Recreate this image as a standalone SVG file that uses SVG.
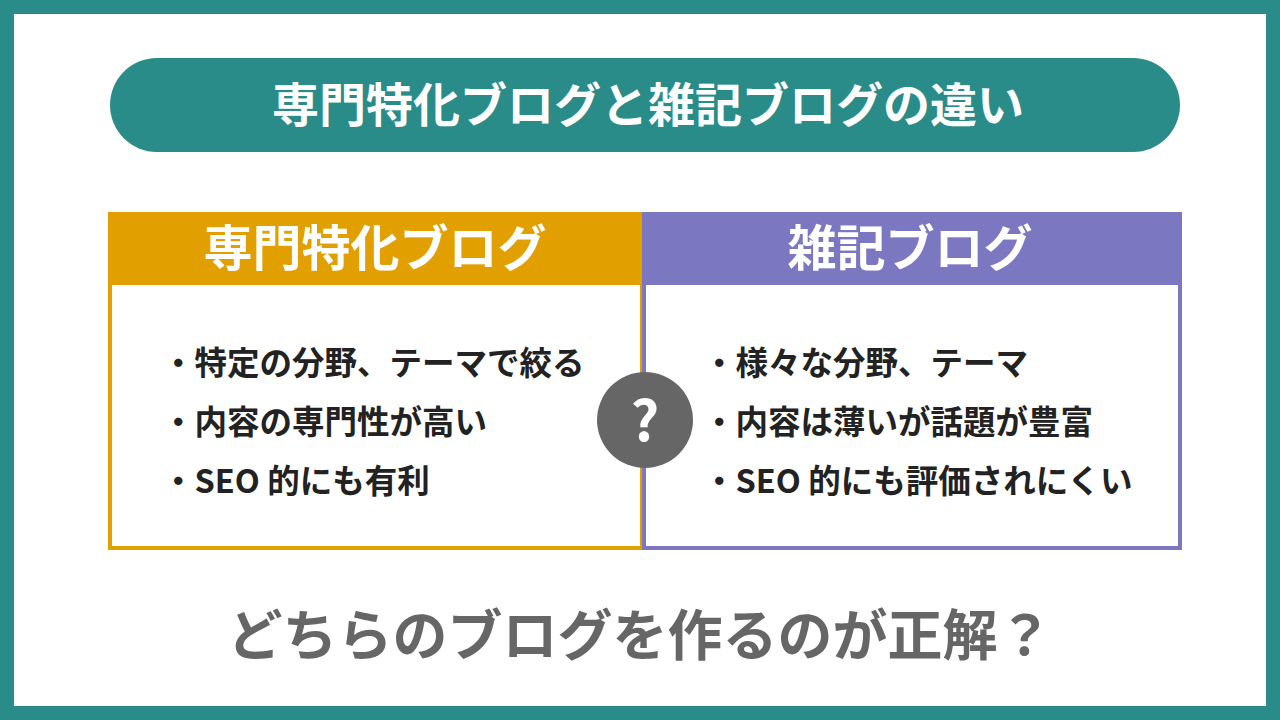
<svg xmlns="http://www.w3.org/2000/svg" width="1280" height="720" viewBox="0 0 1280 720">
<style>
text{font-family:"Noto Sans CJK JP","Noto Sans",sans-serif;font-weight:700}
.b{font-size:32.5px;fill:#222}
.h{fill:#fff;text-anchor:middle}
</style>
<rect x="0" y="0" width="1280" height="720" fill="#2a8c88"/>
<rect x="14" y="14" width="1252" height="692" fill="#fff"/>
<g id="title"><rect x="110" y="58" width="1070" height="94" rx="47" fill="#2a8c88"/>
<text class="h" x="648" y="122" font-size="47">専門特化ブログと雑記ブログの違い</text></g>
<g id="left">
<rect x="110" y="214" width="532" height="334" fill="#fff" stroke="#e2a000" stroke-width="4"/>
<rect x="108" y="212" width="534" height="73" fill="#e2a000"/>
<text class="h" x="375" y="266" font-size="49">専門特化ブログ</text>
<text class="b" x="162" y="375">・特定の分野、テーマで絞る</text>
<text class="b" x="162" y="434">・内容の専門性が高い</text>
<text class="b" x="162" y="493">・SEO 的にも有利</text>
</g>
<g id="right">
<rect x="644" y="214" width="536" height="334" fill="#fff" stroke="#7b77c0" stroke-width="4"/>
<rect x="642" y="212" width="540" height="73" fill="#7b77c0"/>
<text class="h" x="910" y="266" font-size="49">雑記ブログ</text>
<text class="b" x="703" y="375">・様々な分野、テーマ</text>
<text class="b" x="703" y="434">・内容は薄いが話題が豊富</text>
<text class="b" x="703" y="493">・SEO 的にも評価されにくい</text>
</g>
<g id="q"><circle cx="645" cy="420" r="48" fill="#666"/>
<text x="645" y="441" font-size="56" fill="#fff" text-anchor="middle" font-family="Liberation Sans,sans-serif">?</text></g>
<g id="connectors"/>
<text x="640" y="655" font-size="55" fill="#666" text-anchor="middle">どちらのブログを作るのが正解？</text>
</svg>
